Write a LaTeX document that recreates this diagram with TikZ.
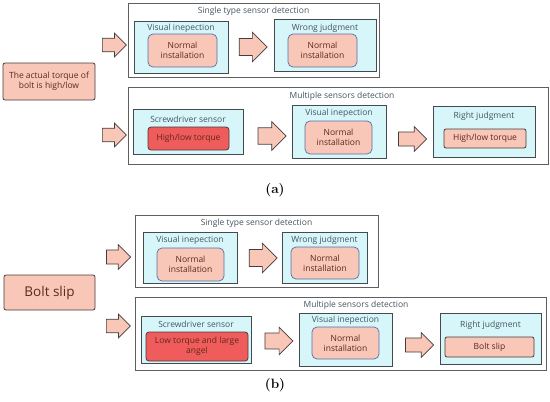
\documentclass[tikz,border=0pt]{standalone}
\usepackage{fontspec}
\setsansfont{Open Sans}
\usetikzlibrary{shapes.arrows}

\definecolor{groupline}{RGB}{95,95,95}
\definecolor{boxcyan}{RGB}{214,246,250}
\definecolor{cyanline}{RGB}{65,75,80}
\definecolor{boxpink}{RGB}{248,199,183}
\definecolor{pinkline}{RGB}{85,110,170}
\definecolor{boxred}{RGB}{240,92,92}
\definecolor{darkline}{RGB}{70,60,60}
\definecolor{labeltext}{RGB}{70,85,100}
\definecolor{pinktext}{RGB}{95,40,30}

\begin{document}
\begin{tikzpicture}[x=1pt,y=-1pt,
  font=\sffamily\fontsize{8.5}{10}\selectfont,
  group/.style={draw=groupline,line width=0.9pt,fill=white},
  sensor/.style={draw=cyanline,line width=0.9pt,fill=boxcyan},
  normal/.style={draw=pinkline,line width=0.7pt,fill=boxpink,rounded corners=5pt,
    text=pinktext,align=center,inner sep=0pt},
  judge/.style={draw=darkline,line width=0.8pt,fill=boxpink,rounded corners=2pt,
    text=pinktext,align=center,inner sep=0pt},
  alarm/.style={draw=darkline,line width=0.8pt,fill=boxred,rounded corners=3pt,
    text=pinktext,align=center,inner sep=0pt},
  start/.style={draw=darkline,line width=0.8pt,fill=boxpink,rounded corners=2pt,
    text=pinktext,align=center,inner sep=0pt},
  title/.style={text=labeltext,inner sep=0pt},
  blockarrow/.style={single arrow,draw=darkline,line width=0.7pt,fill=boxpink,
    inner xsep=0pt,inner ysep=0.28*#1,single arrow head extend=0.22*#1},
  panel/.style={font=\rmfamily\bfseries\fontsize{13.5}{15}\selectfont,inner sep=0pt}]
\useasboundingbox (0,0) rectangle (550,402);

% (a) actual torque high/low
\node[start,minimum width=92,minimum height=37] (torque) at (49,81.5)
  {The actual torque of\\bolt is high/low};
\node[blockarrow=23,minimum height=24] (inA1) at (111,45) {};
\node[blockarrow=23,minimum height=24] (inA2) at (111,135) {};

\node[group,minimum width=251,minimum height=74] (singleA) at (253.5,40) {};
\node[title] (singleAt) at (253.5,11) {Single type sensor detection};
\node[sensor,minimum width=94,minimum height=52] (visA) at (181,47) {};
\node[title] (visAt) at (181,28) {Visual inepection};
\node[normal,minimum width=69,minimum height=33] (visAn) at (182.5,50.5) {Normal\\installation};
\node[blockarrow=29,minimum height=28] (arA1) at (249,47) {};
\node[sensor,minimum width=102,minimum height=52] (wrongA) at (325,45) {};
\node[title] (wrongAt) at (325,28) {Wrong judgment};
\node[normal,minimum width=69,minimum height=33] (wrongAn) at (322.5,50.5) {Normal\\installation};

\node[group,minimum width=420,minimum height=77] (multiA) at (338,125.5) {};
\node[title] (multiAt) at (342,96) {Multiple sensors detection};
\node[sensor,minimum width=110,minimum height=45] (scrA) at (188,131.5) {};
\node[title] (scrAt) at (188,119) {Screwdriver sensor};
\node[alarm,minimum width=81,minimum height=23] (scrAn) at (188.5,138.5) {High/low torque};
\node[blockarrow=28,minimum height=28] (arA2) at (268,136) {};
\node[sensor,minimum width=94,minimum height=53] (vis2A) at (339,131.5) {};
\node[title] (vis2At) at (339,113) {Visual inepection};
\node[normal,minimum width=67,minimum height=33] (vis2An) at (338.5,137.5) {Normal\\installation};
\node[blockarrow=24,minimum height=28] (arA3) at (409,139) {};
\node[sensor,minimum width=102,minimum height=51] (rightA) at (484,131.5) {};
\node[title] (rightAt) at (484,116) {Right judgment};
\node[judge,minimum width=82,minimum height=19] (rightAn) at (485,138.5) {High/low torque};

\node[panel] (capA) at (275,190) {(a)};

% (b) bolt slip
\node[start,minimum width=91,minimum height=35,font=\sffamily\fontsize{13.5}{15}\selectfont]
  (slip) at (49.5,292.5) {Bolt slip};
\node[blockarrow=24,minimum height=24] (inB1) at (115,257) {};
\node[blockarrow=23,minimum height=24] (inB2) at (115,326) {};

\node[group,minimum width=243,minimum height=72] (singleB) at (256.5,251) {};
\node[title] (singleBt) at (256.5,223) {Single type sensor detection};
\node[sensor,minimum width=94,minimum height=51] (visB) at (190,257.5) {};
\node[title] (visBt) at (190,240) {Visual inepection};
\node[normal,minimum width=67,minimum height=33] (visBn) at (190.5,264.5) {Normal\\installation};
\node[blockarrow=29,minimum height=28] (arB1) at (259,258) {};
\node[sensor,minimum width=85,minimum height=51] (wrongB) at (324.5,257.5) {};
\node[title] (wrongBt) at (324.5,240) {Wrong judgment};
\node[normal,minimum width=68,minimum height=32] (wrongBn) at (325,263) {Normal\\installation};

\node[group,minimum width=411,minimum height=73] (multiB) at (340.5,333.5) {};
\node[title] (multiBt) at (356,305) {Multiple sensors detection};
\node[sensor,minimum width=110,minimum height=47] (scrB) at (196,339.5) {};
\node[title] (scrBt) at (196,324) {Screwdriver sensor};
\node[alarm,minimum width=102,minimum height=29] (scrBn) at (197,346.5) {Low torque and large\\angel};
\node[blockarrow=27,minimum height=28] (arB2) at (275,341) {};
\node[sensor,minimum width=93,minimum height=53] (vis2B) at (345.5,339.5) {};
\node[title] (vis2Bt) at (345.5,320) {Visual inepection};
\node[normal,minimum width=67,minimum height=32] (vis2Bn) at (345.5,343) {Normal\\installation};
\node[blockarrow=24,minimum height=28] (arB3) at (416,345) {};
\node[sensor,minimum width=101,minimum height=51] (rightB) at (490.5,338.5) {};
\node[title] (rightBt) at (490.5,325) {Right judgment};
\node[judge,minimum width=89,minimum height=20] (rightBn) at (489.5,347) {Bolt slip};

\node[panel] (capB) at (275,385) {(b)};
\end{tikzpicture}
\end{document}
